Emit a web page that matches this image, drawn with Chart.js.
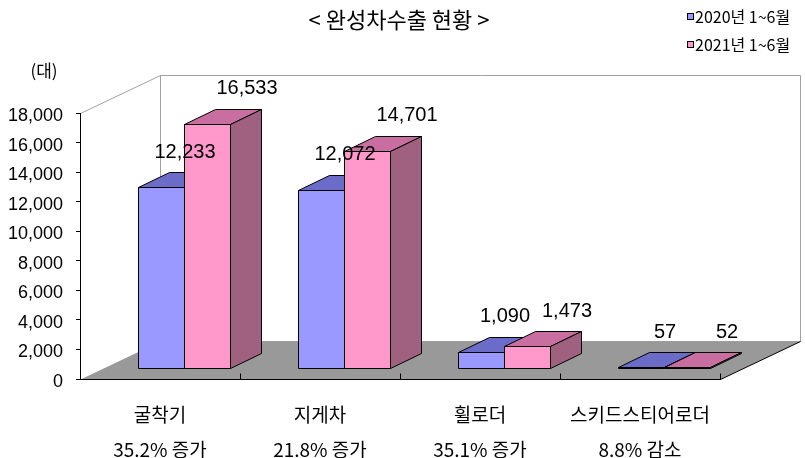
<!DOCTYPE html>
<html>
<head>
<meta charset="utf-8">
<script src="https://cdn.jsdelivr.net/npm/chart.js@4.4.1/dist/chart.umd.min.js"></script>
<style>
  html, body { margin: 0; padding: 0; background: #fff; }
  #wrap { width: 805px; height: 458px; }
</style>
</head>
<body>
<div id="wrap"><canvas id="export-chart"></canvas></div>
<script>
// data
const chartTitle = '< 완성차수출 현황 >';
const unitLabel = '(대)';
const categories = ['굴착기', '지게차', '휠로더', '스키드스티어로더'];
const changeLabels = ['35.2% 증가', '21.8% 증가', '35.1% 증가', '8.8% 감소'];
const seriesNames = ['2020년 1~6월', '2021년 1~6월'];
const exports2020 = [12233, 12072, 1090, 57];
const exports2021 = [16533, 14701, 1473, 52];
const yMin = 0;
const yMax = 18000;
const yStep = 2000;

const KR = '"Noto Sans CJK KR", "Noto Sans", sans-serif';
const NUM = '"Liberation Sans", Arial, sans-serif';

// fake 3d geometry (pixels)
const WALL = { dx: 80, dy: -38 };
const BAR_SHIFT = { dx: 24, dy: -11 };
const BAR_DEPTH = { dx: 31, dy: -15 };
const faces = [
    { front: '#9999FF', top: '#6B6BC8', side: '#55559E' },
    { front: '#FF99CC', top: '#C86EA0', side: '#A0607F' }
];
const labelDx = [24, 40];

Chart.defaults.color = '#000';

function poly(ctx, pts, fill, stroke) {
    ctx.beginPath();
    ctx.moveTo(pts[0][0], pts[0][1]);
    for (let i = 1; i < pts.length; i++) ctx.lineTo(pts[i][0], pts[i][1]);
    ctx.closePath();
    if (fill) { ctx.fillStyle = fill; ctx.fill(); }
    if (stroke) { ctx.strokeStyle = stroke; ctx.stroke(); }
}

function line(ctx, x1, y1, x2, y2, color) {
    ctx.beginPath();
    ctx.moveTo(x1, y1);
    ctx.lineTo(x2, y2);
    ctx.strokeStyle = color;
    ctx.stroke();
}

const box3d = {
    id: 'box3d',
    // walls and floor, under the axes
    beforeDraw(chart) {
        const { ctx, chartArea: a } = chart;
        const l = Math.round(a.left) + 0.5, r = Math.round(a.right) + 0.5;
        const t = Math.round(a.top) + 0.5, b = Math.round(a.bottom) + 0.5;
        ctx.save();
        ctx.lineWidth = 1;
        // back wall
        poly(ctx, [[l + WALL.dx, t + WALL.dy], [r + WALL.dx, t + WALL.dy],
                   [r + WALL.dx, b + WALL.dy], [l + WALL.dx, b + WALL.dy]], '#fff', '#a0a0a0');
        // side wall top edge
        line(ctx, l, t, l + WALL.dx, t + WALL.dy, '#a0a0a0');
        // floor
        poly(ctx, [[l, b], [r, b], [r + WALL.dx, b + WALL.dy], [l + WALL.dx, b + WALL.dy]], '#999999');
        line(ctx, r, b, r + WALL.dx, b + WALL.dy, '#000');
        ctx.restore();
    },
    beforeDatasetDraw() {
        return false; // bars are drawn as boxes below
    },
    afterDatasetsDraw(chart) {
        const { ctx, chartArea: a } = chart;
        const xScale = chart.scales.x;
        ctx.save();
        ctx.lineWidth = 1;
        // category ticks pointing up into the floor
        const half = (xScale.getPixelForValue(1) - xScale.getPixelForValue(0)) / 2;
        const b = Math.round(a.bottom) + 0.5;
        for (let i = 0; i < categories.length; i++) {
            const px = Math.round(xScale.getPixelForValue(i) + half) + 0.5;
            line(ctx, px, b - 6, px, b, '#000');
        }
        // bars
        const n = chart.data.datasets.length;
        for (let i = 0; i < categories.length; i++) {
            for (let d = 0; d < n; d++) {
                const bar = chart.getDatasetMeta(d).data[i];
                const p = bar.getProps(['x', 'y', 'base', 'width'], true);
                const L = Math.round(p.x - p.width / 2 + BAR_SHIFT.dx) + 0.5;
                const R = Math.round(p.x + p.width / 2 + BAR_SHIFT.dx) + 0.5;
                const T = Math.round(p.y + BAR_SHIFT.dy) + 0.5;
                const B = Math.round(p.base + BAR_SHIFT.dy) + 0.5;
                const f = faces[d];
                poly(ctx, [[L, T], [R, T], [R, B], [L, B]], f.front, '#000');
                poly(ctx, [[L, T], [L + BAR_DEPTH.dx, T + BAR_DEPTH.dy],
                           [R + BAR_DEPTH.dx, T + BAR_DEPTH.dy], [R, T]], f.top, '#000');
                poly(ctx, [[R, T], [R + BAR_DEPTH.dx, T + BAR_DEPTH.dy],
                           [R + BAR_DEPTH.dx, B + BAR_DEPTH.dy], [R, B]], f.side, '#000');
            }
        }
        // value labels
        ctx.font = '20px ' + NUM;
        ctx.fillStyle = '#000';
        ctx.textAlign = 'center';
        ctx.textBaseline = 'middle';
        for (let d = 0; d < n; d++) {
            const values = chart.data.datasets[d].data;
            chart.getDatasetMeta(d).data.forEach((bar, i) => {
                const p = bar.getProps(['x', 'y'], true);
                ctx.fillText(values[i].toLocaleString('en-US'),
                    p.x + BAR_SHIFT.dx + labelDx[d], p.y + BAR_SHIFT.dy - 35);
            });
        }
        ctx.restore();
    },
    afterDraw(chart) {
        const { ctx } = chart;
        ctx.save();
        ctx.fillStyle = '#000';
        ctx.textAlign = 'center';
        ctx.textBaseline = 'middle';
        // title
        ctx.font = '22px ' + KR;
        ctx.fillText(chartTitle, 399, 20);
        // unit
        ctx.font = '17px ' + KR;
        ctx.fillText(unitLabel, 44, 71);
        // legend
        ctx.font = '16px ' + KR;
        ctx.textAlign = 'left';
        chart.data.datasets.forEach((ds, d) => {
            const cy = 16.5 + d * 28;
            ctx.fillStyle = ds.backgroundColor;
            ctx.fillRect(687, cy - 3.5, 7, 7);
            ctx.strokeStyle = '#000';
            ctx.lineWidth = 1;
            ctx.strokeRect(687.5, cy - 3, 6, 6);
            ctx.fillStyle = '#000';
            ctx.fillText(ds.label, 695, cy);
        });
        ctx.restore();
    }
};

const exportChart = new Chart(document.getElementById('export-chart'), {
    type: 'bar',
    data: {
        labels: categories.map((c, i) => [c, changeLabels[i]]),
        datasets: [
            { label: seriesNames[0], data: exports2020, backgroundColor: faces[0].front },
            { label: seriesNames[1], data: exports2021, backgroundColor: faces[1].front }
        ]
    },
    options: {
        responsive: true,
        maintainAspectRatio: false,
        animation: false,
        layout: { padding: { left: 0, right: 85, top: 113, bottom: 0 } },
        datasets: { bar: { categoryPercentage: 0.575, barPercentage: 1 } },
        plugins: {
            legend: { display: false },
            tooltip: { enabled: false },
            title: { display: false }
        },
        scales: {
            x: {
                grid: { display: false },
                border: { display: true, color: '#000', width: 1 },
                ticks: {
                    padding: 10,
                    maxRotation: 0,
                    autoSkip: false,
                    font: { family: KR, size: 19, lineHeight: '35px' }
                },
                afterFit(scale) { scale.height = 79; }
            },
            y: {
                min: yMin,
                max: yMax,
                grid: { drawOnChartArea: false, color: '#000', tickLength: 4 },
                border: { display: true, color: '#000', width: 1 },
                ticks: {
                    stepSize: yStep,
                    padding: 13,
                    labelOffset: 3,
                    font: { family: NUM, size: 18 },
                    callback: v => v.toLocaleString('en-US')
                },
                afterFit(scale) { scale.width = 80; }
            }
        }
    },
    plugins: [box3d]
});
</script>
</body>
</html>
